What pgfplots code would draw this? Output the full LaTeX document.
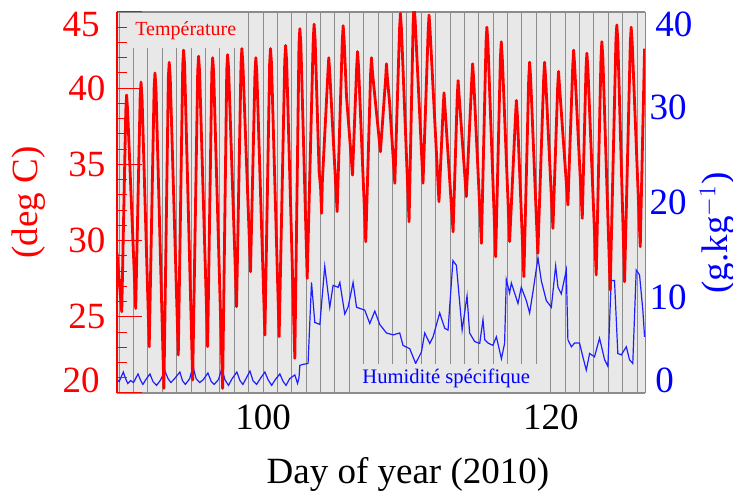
\documentclass[border=0pt]{standalone}
\usepackage{fontspec}
\setmainfont{Liberation Serif}
\usepackage{pgfplots}
\usepackage{pgfplotstable}
\pgfplotsset{compat=1.18}
\definecolor{bggray}{RGB}{232,232,232}
\definecolor{gridgray}{RGB}{140,140,140}
\definecolor{hblue}{RGB}{30,30,255}

% temperature (deg C), day of year
\pgfplotstableread{
day T
89.85 29.2
90.18 25.33
90.46 38.5
90.52 39.55
90.59 38.5
91.15 25.55
91.46 39.4
91.52 40.4
91.59 39.4
92.09 23.04
92.43 40.0
92.49 41.0
92.56 40.0
93.11 20.3
93.42 40.7
93.48 41.7
93.55 40.7
94.11 22.5
94.42 41.5
94.48 42.5
94.55 41.5
95.11 20.85
95.46 41.1
95.52 42.1
95.59 41.1
96.15 23.04
96.44 41.0
96.5 42.0
96.57 41.0
97.19 20.3
97.48 41.2
97.54 42.2
97.61 41.2
98.16 25.66
98.47 41.6
98.53 42.6
98.6 41.6
99.13 27.96
99.44 41.0
99.5 42.0
99.57 41.0
100.13 23.8
100.46 41.6
100.52 42.6
100.59 41.6
101.12 23.7
101.51 41.8
101.57 42.8
101.64 41.8
102.21 22.27
102.5 42.9
102.56 43.9
102.63 42.9
103.07 27.52
103.49 43.2
103.55 44.2
103.62 43.2
103.9 34.5
104.0 33.5
104.07 31.79
104.12 33.8
104.51 41.0
104.57 42.0
104.64 41.0
105.15 31.9
105.51 43.1
105.57 44.1
105.64 43.1
105.8 39.5
106.22 34.3
106.51 41.4
106.57 42.4
106.64 41.4
107.14 29.93
107.48 41.0
107.54 42.0
107.61 41.0
108.16 35.83
108.52 40.6
108.58 41.6
108.65 40.6
108.8 39.0
109.16 33.76
109.49 43.9
109.55 44.9
109.62 43.9
110.15 31.24
110.44 44.5
110.5 45.4
110.57 44.5
111.12 33.76
111.48 43.8
111.54 44.8
111.61 43.8
112.23 32.55
112.52 38.7
112.58 39.7
112.65 38.7
113.21 30.58
113.5 39.5
113.56 40.5
113.63 39.5
114.13 32.88
114.51 40.6
114.57 41.6
114.64 40.6
115.18 29.82
115.5 43.0
115.56 44.0
115.63 43.0
116.17 28.94
116.5 42.0
116.56 43.05
116.63 42.0
117.14 29.93
117.55 38.2
117.61 39.2
117.68 38.2
118.13 27.63
118.47 40.7
118.53 41.7
118.6 40.7
119.1 29.16
119.51 40.7
119.57 41.7
119.64 40.7
120.15 30.8
120.48 40.1
120.54 41.1
120.61 40.1
121.19 32.34
121.53 41.5
121.59 42.5
121.66 41.5
122.19 31.46
122.45 41.3
122.51 42.3
122.58 41.3
123.16 27.74
123.49 42.0
123.55 43.05
123.62 42.0
124.13 26.76
124.53 43.15
124.59 44.15
124.66 43.15
125.13 27.3
125.53 43.0
125.59 44.0
125.66 43.0
126.22 29.6
126.52 42.6
}\temp

% specific humidity (g/kg)
\pgfplotstableread{
day H
89.85 1.4
90.0 1.2
90.29 2.2
90.45 1.5
90.6 1.0
90.8 1.3
91.0 1.1
91.31 2.0
91.5 1.3
91.65 0.9
91.85 1.4
92.14 2.0
92.35 1.2
92.6 0.8
92.85 1.3
93.18 2.3
93.4 1.5
93.6 1.1
93.85 1.5
94.22 2.2
94.4 1.3
94.6 0.9
94.9 1.5
95.13 2.8
95.35 1.5
95.6 1.1
95.85 1.4
96.17 2.1
96.4 1.2
96.6 0.9
96.9 1.4
97.14 2.6
97.35 1.4
97.6 0.8
97.85 1.5
98.18 2.2
98.4 1.3
98.6 0.9
98.85 1.6
99.09 2.3
99.3 1.3
99.55 0.9
99.85 1.6
100.13 2.2
100.35 1.4
100.6 0.8
100.85 1.4
101.17 2.0
101.4 1.2
101.6 0.8
101.85 1.5
102.21 1.9
102.4 1.0
102.5 1.6
102.56 2.9
102.77 3.0
103.13 3.1
103.37 11.6
103.6 7.4
103.95 7.2
104.29 13.3
104.64 9.0
104.87 11.3
105.22 11.1
105.34 11.6
105.68 8.3
105.91 9.0
106.26 11.6
106.5 9.0
107.07 8.7
107.42 7.3
107.77 8.6
108.11 7.2
108.58 6.3
109.04 6.1
109.5 6.3
109.73 5.0
110.2 4.65
110.61 3.1
111.01 4.3
111.24 6.3
111.59 5.2
111.82 5.9
112.28 8.4
112.63 6.8
112.86 6.6
113.2 13.9
113.44 13.4
113.84 6.6
114.18 10.2
114.36 6.3
114.71 5.4
115.06 5.2
115.29 7.7
115.41 5.6
115.63 5.25
115.98 5.0
116.22 5.9
116.57 3.6
116.79 5.2
116.91 11.9
117.14 10.5
117.26 11.55
117.72 9.4
117.95 11.1
118.3 9.7
118.53 8.4
118.76 10.6
119.11 14.2
119.34 11.8
119.69 9.7
120.04 9.0
120.34 13.35
120.5 11.1
120.73 10.4
121.08 12.9
121.19 5.6
121.43 4.85
121.66 5.25
122.0 5.25
122.23 3.8
122.47 2.4
122.7 4.15
123.04 3.8
123.39 5.75
123.74 3.5
123.97 2.8
124.2 11.8
124.43 11.8
124.66 4.15
124.9 4.0
125.25 4.85
125.47 3.5
125.7 3.1
125.94 12.9
126.17 12.4
126.4 8.7
126.52 5.9
}\hum

\begin{document}
\begin{tikzpicture}[font=\fontsize{18.5}{20}\selectfont]
% humidity axis (right), background and day grid
\begin{axis}[
  scale only axis, width=264pt, height=190.5pt,
  xmin=89.85, xmax=126.55, ymin=0, ymax=40,
  clip mode=individual,
  axis background/.style={fill=bggray},
  axis x line=box, axis y line*=right,
  x axis line style={gridgray, line width=0.6pt},
  y axis line style={hblue!60, line width=0.5pt},
  xtick={100,120}, xticklabels={100,120},
  minor xtick={90,...,126},
  xmajorgrids, xminorgrids,
  major grid style={gridgray, line width=0.5pt},
  minor grid style={gridgray, line width=0.5pt},
  major tick length=0pt, minor tick length=0pt,
  xticklabel style={yshift=-2.5pt},
  ytick={0,10,20,30,40}, yticklabels={{},10,20,30,{}},
  yticklabel style={blue, xshift=-1.2pt},
  xlabel={Day of year (2010)},
  every axis x label/.style={at={(axis description cs:0.551,-0.215)}, anchor=center},
  ylabel={(g.kg$^{-1}$)},
  every axis y label/.style={blue, at={(axis description cs:1.138,0.42)}, anchor=center, rotate=90},
]
\addplot[hblue, line width=0.6pt] table[x=day, y=H] {\hum};
\node[blue, anchor=north west, inner sep=0pt] at ([xshift=5pt]rel axis cs:1,1) {40};
\node[blue, anchor=south west, inner sep=0pt] at ([xshift=5pt]rel axis cs:1,0) {0};
\node[fill=bggray, text=blue, font=\fontsize{10.3}{12}\selectfont, inner xsep=3.5pt, inner ysep=2.3pt, anchor=south west]
  at ([xshift=119pt, yshift=0.3pt]rel axis cs:0,0) {Humidité spécifique};
\coordinate (sw) at (rel axis cs:0,0);
\coordinate (ne) at (rel axis cs:1,1);
\end{axis}
% temperature axis (left)
\begin{axis}[
  scale only axis, width=264pt, height=190.5pt,
  xmin=89.85, xmax=126.55, ymin=20, ymax=45,
  clip mode=individual,
  axis x line=none, axis y line*=left,
  y axis line style={red, line width=0.6pt},
  ytick={20,25,...,45}, yticklabels={{},25,30,35,40,{}},
  minor y tick num=4,
  tick align=inside,
  major tick length=12.5pt, minor tick length=5pt,
  every tick/.style={red, line width=0.5pt},
  yticklabel style={red, xshift=-2.3pt},
  ylabel={(deg C)},
  every axis y label/.style={red, at={(axis description cs:-0.168,0.5)}, anchor=center, rotate=90},
]
\addplot[red, line width=1.4pt, line join=round] table[x=day, y=T] {\temp};
\node[red, anchor=south east, inner sep=0pt] at ([xshift=-8.5pt]rel axis cs:0,0) {20};
\node[red, anchor=north east, inner sep=0pt] at ([xshift=-8.5pt]rel axis cs:0,1) {45};
\node[fill=bggray, text=red, font=\fontsize{10}{12}\selectfont, inner xsep=2.5pt, inner ysep=4pt, anchor=north west]
  at ([xshift=6.5pt, yshift=-0.5pt]rel axis cs:0,1) {Température};
\end{axis}
\pgfresetboundingbox
\path[use as bounding box] ([shift={(-58.5pt,-53.5pt)}]sw) rectangle ([shift={(44pt,6pt)}]ne);
\end{tikzpicture}
\end{document}
